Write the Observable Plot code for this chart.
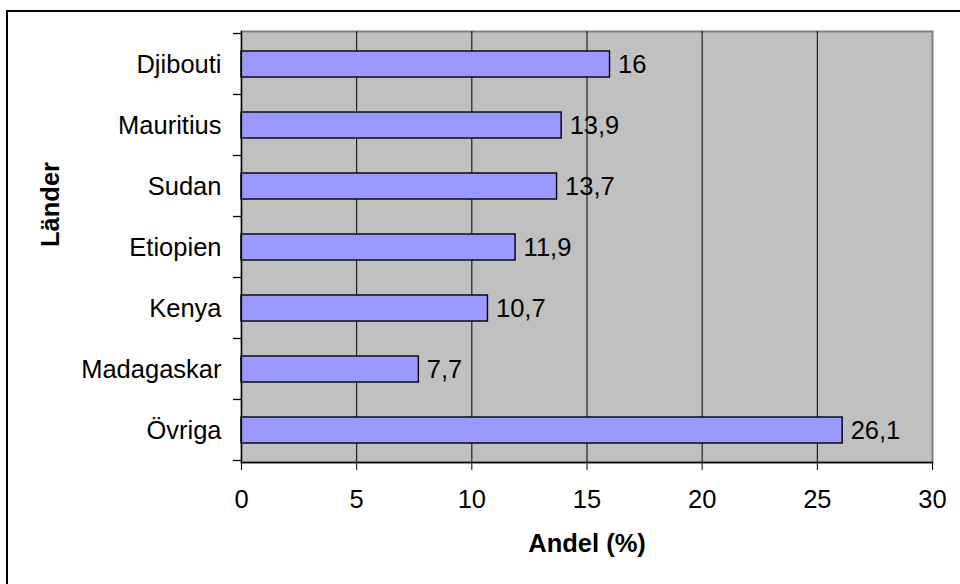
<!DOCTYPE html>
<html><head><meta charset="utf-8">
<script src="https://cdn.jsdelivr.net/npm/d3@7"></script>
<script src="https://cdn.jsdelivr.net/npm/@observablehq/plot@0.6"></script>
<style>body{margin:0;background:#fff} #chart{width:960px;height:584px}</style>
</head><body><div id="chart"></div>
<script>
const countries = ["Djibouti","Mauritius","Sudan","Etiopien","Kenya","Madagaskar","Övriga"];
const shares = [16, 13.9, 13.7, 11.9, 10.7, 7.7, 26.1];
const xTicks = [0, 5, 10, 15, 20, 25, 30];
const gridTicks = [5, 10, 15, 20, 25];
const xTitle = "Andel (%)";
const yTitle = "Länder";

const data = countries.map((c, i) => ({country: c, share: shares[i]}));
const fmt = v => String(v).replace(".", ",");
const FONT = "'Liberation Sans', Arial, sans-serif";
const FS = 25.5;

const plot = Plot.plot({
  width: 960, height: 584,
  marginLeft: 241, marginRight: 28, marginTop: 31, marginBottom: 122,
  style: {fontFamily: FONT, fontSize: FS + "px", background: "#fff", overflow: "visible"},
  x: {domain: [0, 30]},
  y: {domain: countries, paddingInner: 0.58, paddingOuter: 0.29},
  marks: [
    Plot.frame({fill: "#c0c0c0", stroke: "#808080", strokeWidth: 2}),
    Plot.ruleX(gridTicks, {stroke: "#000", strokeWidth: 1}),
    Plot.barX(data, {x: "share", y: "country", fill: "#9999ff", stroke: "#000", strokeWidth: 1.4}),
    Plot.text(data, {x: "share", y: "country", text: d => fmt(d.share), textAnchor: "start", dx: 8, fontSize: FS, fill: "#000"}),
    Plot.frame({anchor: "left", stroke: "#000", strokeWidth: 1.3}),
    Plot.frame({anchor: "bottom", stroke: "#000", strokeWidth: 1.3}),
    Plot.axisX(xTicks, {tickSize: 8, tickPadding: 19, fontSize: FS, label: null, stroke: "#000"}),
    Plot.axisY({tickSize: 0, tickPadding: 20, fontSize: FS, label: null}),
    Plot.text([xTitle], {frameAnchor: "bottom", dy: 89, fontSize: FS, fontWeight: "bold", fill: "#000"}),
    Plot.text([yTitle], {frameAnchor: "left", dx: -191, rotate: -90, fontSize: FS, fontWeight: "bold", fill: "#000"})
  ]
});

// Category boundary ticks on the y axis (Excel style) and the outer chart border
const svg = d3.select(plot);
const sy = plot.scale("y");
const sx = plot.scale("x");
const x0 = sx.apply(0);
const half = (sy.step - sy.bandwidth) / 2;
const bounds = countries.map(c => sy.apply(c) - half);
bounds.push(sy.apply(countries[countries.length - 1]) + sy.bandwidth + half);
svg.append("g").selectAll("line").data(bounds).join("line")
  .attr("x1", x0 - 8).attr("x2", x0).attr("y1", d => d).attr("y2", d => d)
  .attr("stroke", "#000").attr("stroke-width", 1.3);
svg.append("path").attr("d", "M7,584V11H960").attr("fill", "none").attr("stroke", "#000").attr("stroke-width", 2);

document.getElementById("chart").appendChild(plot);
</script>
</body></html>
